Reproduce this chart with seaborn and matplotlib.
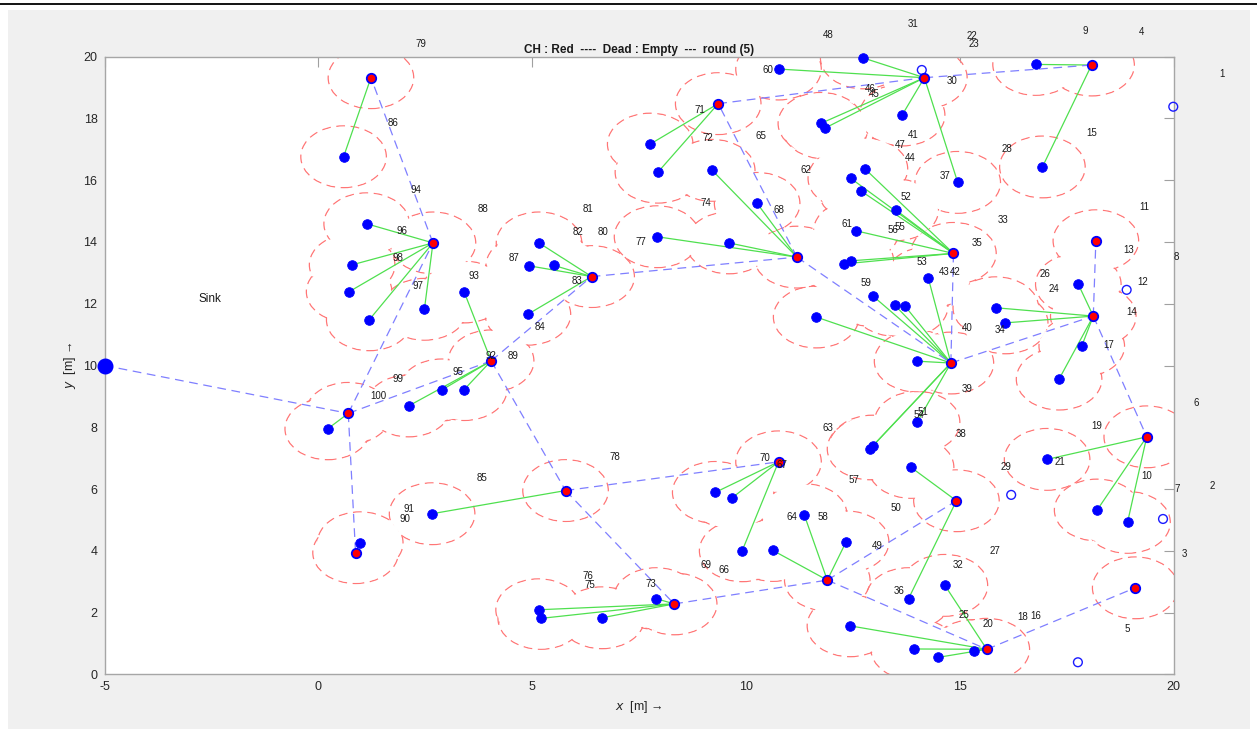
import numpy as np
import pandas as pd
import matplotlib
matplotlib.use("Agg")
import matplotlib.pyplot as plt
import seaborn as sns
from matplotlib.patches import Circle, Rectangle
from matplotlib.lines import Line2D

sns.set_theme(style="white")
plt.rcParams["font.family"] = ["Liberation Sans", "DejaVu Sans"]
plt.rcParams["axes.unicode_minus"] = False

# ---------------- data ----------------
sink_x, sink_y = -5.0, 10.0

ch_names = ["A", "B", "C", "D", "E", "F", "G", "H", "I", "J", "K",
            "L", "M", "N", "O", "P", "Q", "R", "S", "T", "U", "V"]
ch_x = [1.23, 2.68, 0.70, 0.87, 4.04, 6.39, 5.78, 11.19, 8.32, 11.90, 10.76,
        14.92, 19.10, 15.63, 14.79, 14.85, 14.17, 9.35, 18.08, 18.12, 18.18, 19.37]
ch_y = [19.32, 13.97, 8.45, 3.94, 10.15, 12.88, 5.95, 13.51, 2.28, 3.05, 6.88,
        5.62, 2.80, 0.81, 10.08, 13.63, 19.32, 18.48, 19.73, 11.60, 14.04, 7.69]

member_x = [0.59,
            1.13, 0.79, 0.72, 1.19, 2.48,
            0.22,
            0.98,
            3.41, 2.89, 3.41, 2.11,
            5.16, 4.92, 5.51, 4.90,
            2.66,
            7.92, 9.60, 9.21, 10.26,
            5.15, 5.20, 6.63, 7.90,
            10.63, 11.36, 12.34,
            9.28, 9.67, 9.91,
            13.80, 13.86,
            12.43, 13.92, 14.50, 15.32, 14.65,
            12.96, 13.48, 13.72, 11.64, 14.00, 12.90, 12.96, 14.00, 14.26,
            12.78, 12.45, 12.70, 13.50, 12.58, 12.29, 12.45,
            12.74, 10.76, 11.75, 11.85, 13.65, 14.95,
            7.76, 7.94,
            16.77, 16.93,
            17.77, 15.84, 16.06, 17.85, 17.32,
            17.04, 18.21, 18.92]
member_y = [16.76,
            14.59, 13.26, 12.39, 11.48, 11.82,
            7.95,
            4.26,
            12.38, 9.21, 9.22, 8.69,
            13.97, 13.23, 13.24, 11.66,
            5.20,
            14.17, 13.97, 16.32, 15.25,
            2.09, 1.81, 1.83, 2.45,
            4.01, 5.17, 4.29,
            5.89, 5.71, 4.00,
            2.45, 6.70,
            1.57, 0.82, 0.55, 0.77, 2.88,
            12.26, 11.95, 11.92, 11.57, 10.14, 7.30, 7.39, 8.16, 12.84,
            16.37, 16.06, 15.64, 15.04, 14.36, 13.29, 13.39,
            19.96, 19.60, 17.84, 17.69, 18.11, 15.93,
            17.17, 16.26,
            19.75, 16.43,
            12.63, 11.87, 11.38, 10.63, 9.56,
            6.96, 5.32, 4.92]
member_ch = (["A"] + ["B"] * 5 + ["C"] + ["D"] + ["E"] * 4 + ["F"] * 4 + ["G"]
             + ["H"] * 4 + ["I"] * 4 + ["J"] * 3 + ["K"] * 3 + ["L"] * 2
             + ["N"] * 5 + ["O"] * 9 + ["P"] * 7 + ["Q"] * 6 + ["R"] * 2
             + ["S"] * 2 + ["T"] * 5 + ["V"] * 3)

dead_x = [14.11, 19.99, 18.90, 16.20, 19.75, 17.76]
dead_y = [19.57, 18.38, 12.45, 5.81, 5.03, 0.39]

routes = [("Sink", "C"), ("C", "B"), ("B", "A"), ("C", "D"), ("C", "E"),
          ("E", "F"), ("E", "G"), ("F", "H"), ("H", "R"), ("R", "Q"),
          ("Q", "S"), ("H", "O"), ("O", "P"), ("O", "T"), ("T", "U"),
          ("T", "V"), ("G", "I"), ("G", "K"), ("I", "J"), ("J", "L"),
          ("J", "N"), ("N", "M")]

label_ids = list(range(1, 101))
label_x = [21.13, 20.90, 20.26, 19.24, 18.92, 20.53, 20.07, 20.06, 17.93, 19.37,
           19.32, 19.27, 18.94, 19.01, 18.08, 16.78, 18.48, 16.47, 18.19, 15.65,
           17.34, 15.28, 15.33, 17.21, 15.09, 17.00, 15.81, 16.11, 16.07, 14.82,
           13.90, 14.96, 16.00, 15.95, 15.41, 13.58, 14.66, 15.02, 15.16, 15.17,
           13.92, 14.89, 14.63, 13.85, 12.99, 12.90, 13.61, 11.92, 13.07, 13.51,
           14.13, 13.73, 14.12, 14.05, 13.59, 13.44, 12.52, 11.79, 12.80, 10.51,
           12.35, 11.40, 11.92, 11.08, 10.36, 9.48, 10.83, 10.78, 9.06, 10.44,
           8.91, 9.10, 7.77, 9.07, 6.36, 6.31, 7.54, 6.94, 2.39, 6.66,
           6.31, 6.07, 6.05, 5.19, 3.82, 1.75, 4.57, 3.86, 4.56, 2.02,
           2.11, 4.04, 3.63, 2.28, 3.27, 1.95, 2.34, 1.87, 1.86, 1.40]
label_y = [19.44, 6.10, 3.91, 20.81, 1.48, 8.79, 6.00, 13.52, 20.83, 6.43,
           15.13, 12.70, 13.73, 11.72, 17.52, 1.90, 10.66, 1.86, 8.05, 1.64,
           6.87, 20.66, 20.41, 12.48, 1.91, 12.96, 3.99, 17.02, 6.72, 19.21,
           21.06, 3.53, 14.72, 11.16, 13.98, 2.69, 16.15, 7.79, 9.24, 11.22,
           17.46, 13.04, 13.04, 16.73, 18.78, 18.94, 17.14, 20.70, 4.15, 5.39,
           8.50, 15.45, 13.36, 8.39, 14.48, 14.39, 6.29, 5.10, 12.67, 19.58,
           14.59, 16.34, 7.98, 5.09, 17.42, 3.38, 6.78, 15.04, 3.54, 6.99,
           18.27, 17.36, 2.91, 15.25, 2.88, 3.17, 14.01, 7.05, 20.42, 14.33,
           15.07, 14.33, 12.74, 11.25, 6.35, 17.84, 13.48, 15.06, 10.31, 5.04,
           5.35, 10.32, 12.91, 15.68, 9.79, 14.37, 12.58, 13.47, 9.55, 9.02]

title_text = "CH : Red  ----  Dead : Empty  ---  round (5)"

# ---------------- figure ----------------
W, H = 1257, 729
fig = plt.figure(figsize=(W / 100, H / 100), dpi=100)
fig.patch.set_facecolor("white")
fig.add_artist(Rectangle((8 / W, 0), (1250 - 8) / W, (H - 10) / H,
                         transform=fig.transFigure, facecolor="#f0f0f0",
                         edgecolor="none", zorder=-10))
fig.add_artist(Line2D([0, 1], [1 - 3.5 / H] * 2, transform=fig.transFigure,
                      color="black", lw=1.3))

ax = fig.add_axes([104.5 / W, (H - 674.3) / H, (1173.7 - 104.5) / W, (674.3 - 56.7) / H])
ax.set_facecolor("white")

ch_pos = {n: (x, y) for n, x, y in zip(ch_names, ch_x, ch_y)}
ch_pos["Sink"] = (sink_x, sink_y)

# coverage circles (union outline)
alive_x = list(ch_x) + list(member_x)
alive_y = list(ch_y) + list(member_y)
for x, y in zip(alive_x, alive_y):
    ax.add_patch(Circle((x, y), 1.0, fill=False, edgecolor="#ff7676",
                        linestyle=(0, (7, 4.5)), lw=0.9, zorder=1))
for x, y in zip(alive_x, alive_y):
    ax.add_patch(Circle((x, y), 0.972, facecolor="white", edgecolor="none", zorder=1.5))

# member -> CH links
for mx, my, c in zip(member_x, member_y, member_ch):
    cx, cy = ch_pos[c]
    ax.plot([mx, cx], [my, cy], color="#4fe04f", lw=0.9, zorder=2)

# CH routing
for a, b in routes:
    (x1, y1), (x2, y2) = ch_pos[a], ch_pos[b]
    ax.plot([x1, x2], [y1, y2], color="#7f7fff", lw=0.9,
            linestyle=(0, (7, 4.5)), zorder=2.5, clip_on=False)

# nodes
df_m = pd.DataFrame({"x": member_x, "y": member_y})
df_c = pd.DataFrame({"x": ch_x, "y": ch_y})
sns.scatterplot(data=df_m, x="x", y="y", ax=ax, color="#0000ff", s=48,
                edgecolor="#0000ff", linewidth=0.6, zorder=3, clip_on=False, legend=False)
sns.scatterplot(data=df_c, x="x", y="y", ax=ax, color="#ff0000", s=46,
                edgecolor="#0000ff", linewidth=1.3, zorder=3.5, clip_on=False, legend=False)
ax.scatter(dead_x, dead_y, s=40, facecolors="none", edgecolors="#1a1aff",
           linewidths=1.0, zorder=3, clip_on=False)
ax.scatter([sink_x], [sink_y], s=110, color="#0000ff", zorder=4, clip_on=False)

# node id labels
for i, x, y in zip(label_ids, label_x, label_y):
    ax.text(x, y, str(i), fontsize=7, ha="center", va="center",
            color="#1a1a1a", zorder=5, clip_on=False)

ax.text(-2.53, 12.15, "Sink", fontsize=8.5, ha="center", va="center", color="#1a1a1a")

# axes styling
ax.set_xlim(-5, 20)
ax.set_ylim(0, 20)
ax.set_xticks([-5, 0, 5, 10, 15, 20])
ax.set_yticks(list(range(0, 21, 2)))
ax.tick_params(direction="in", length=7, width=0.8, color="#a0a0a0",
               top=True, right=True, labelsize=9, labelcolor="#262626", pad=5)
for s in ax.spines.values():
    s.set_color("#a6a6a6")
    s.set_linewidth(1.0)
ax.set_title(title_text, fontsize=8.5, fontweight="bold", pad=3, color="#1a1a1a")
ax.set_xlabel("$x$  [m] \u2192", fontsize=9, labelpad=4, color="#262626")
ax.set_ylabel("$y$  [m] \u2192", fontsize=9, labelpad=4, color="#262626")

fig.savefig("out.png", dpi=100)
